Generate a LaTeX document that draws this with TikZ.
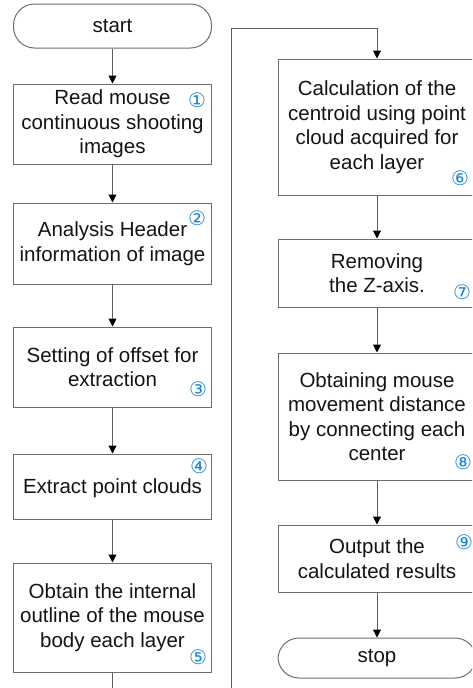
\documentclass[tikz,border=0pt]{standalone}
\usepackage{fontspec}
\setmainfont{Liberation Sans}
\newfontfamily\circfont{DejaVu Sans}
\usetikzlibrary{arrows.meta}
\definecolor{linegray}{HTML}{5E5E5E}
\definecolor{boxgray}{HTML}{6E6E6E}
\definecolor{numblue}{HTML}{1C86D1}
\definecolor{txt}{HTML}{141414}
\tikzset{
  x=1pt, y=-1pt,
  stepbox/.style={draw=boxgray, line width=1pt, minimum width=198pt, align=center,
    text=txt, font=\fontsize{20.5}{24.5}\selectfont, inner sep=0pt},
  termbox/.style={stepbox, rounded corners=21pt},
  flow/.style={draw=linegray, line width=1pt, -{Triangle[width=8pt,length=8pt,color=black]}},
  num/.style={text=numblue, font=\circfont\fontsize{20}{20}\selectfont, inner sep=0pt}
}
\begin{document}
\begin{tikzpicture}
\useasboundingbox (0,0) rectangle (472,688);
\clip (0,0) rectangle (472,688);

% left column
\node[termbox, minimum height=44pt] (start) at (112.5,26) {start};
\node[stepbox, minimum height=80pt] (b1) at (112.5,124) {Read mouse\\continuous shooting\\images};
\node[stepbox, minimum height=81pt] (b2) at (112.5,243.5) {Analysis Header\\information of image};
\node[stepbox, minimum height=80pt] (b3) at (112.5,367) {Setting of offset for\\extraction};
\node[stepbox, minimum height=65pt, text depth=0pt] (b4) at (112.5,486.5) {Extract point clouds};
\node[stepbox, minimum height=109pt] (b5) at (112.5,617.5) {Obtain the internal\\outline of the mouse\\body each layer};

% right column
\node[stepbox, minimum height=136pt] (b6) at (377,127) {Calculation of the\\centroid using point\\cloud acquired for\\each layer};
\node[stepbox, minimum height=68pt] (b7) at (377,273) {Removing\\the Z-axis.};
\node[stepbox, minimum height=127pt] (b8) at (377,416.5) {Obtaining mouse\\movement distance\\by connecting each\\center};
\node[stepbox, minimum height=67pt] (b9) at (377,558.5) {Output the\\calculated results};
\node[termbox, minimum height=40pt] (stop) at (377,658) {stop};

% step numbers
\node[num] (n1) at (197,100) {①};
\node[num] (n2) at (197,218) {②};
\node[num] (n3) at (198,389) {③};
\node[num] (n4) at (199,466) {④};
\node[num] (n5) at (198,657) {⑤};
\node[num] (n6) at (460,178) {⑥};
\node[num] (n7) at (462,292) {⑦};
\node[num] (n8) at (463,462) {⑧};
\node[num] (n9) at (464,542) {⑨};

% connectors
\draw[flow] (start) -- (b1);
\draw[flow] (b1) -- (b2);
\draw[flow] (b2) -- (b3);
\draw[flow] (b3) -- (b4);
\draw[flow] (b4) -- (b5);
\coordinate (lb) at (112.5,700);
\coordinate (rb) at (231,700);
\coordinate (rt) at (231,28);
\draw[flow] (b5.south) -- (lb) -- (rb) -- (rt) -| (b6.north);
\draw[flow] (b6) -- (b7);
\draw[flow] (b7) -- (b8);
\draw[flow] (b8) -- (b9);
\draw[flow] (b9) -- (stop);
\end{tikzpicture}
\end{document}
